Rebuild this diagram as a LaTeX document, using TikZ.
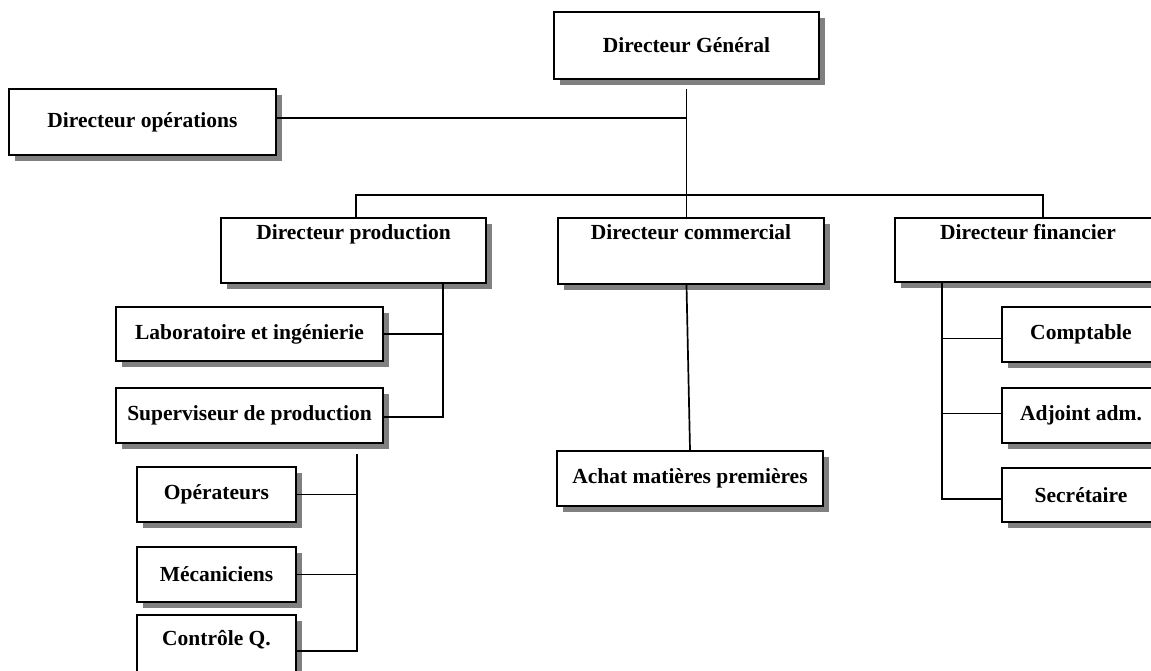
\documentclass[tikz,border=0pt]{standalone}
\usepackage{fontspec}
\setmainfont{Liberation Serif}
\usetikzlibrary{shadows}
\begin{document}
\begin{tikzpicture}[x=1pt,y=-1pt,
  box/.style={draw=black, line width=2.2pt, fill=white, inner sep=0pt,
    font=\bfseries\fontsize{21.5}{25}\selectfont,
    drop shadow={shadow xshift=6pt, shadow yshift=-6pt, fill=black!50, opacity=1}},
  lbl/.style={inner sep=0pt, font=\bfseries\fontsize{21.5}{25}\selectfont},
  conn/.style={draw=black, line width=1.7pt}]
\useasboundingbox (0,0) rectangle (1151,670);
\clip (0,0) rectangle (1151,670);

% top management
\node[box, minimum width=265pt, minimum height=67pt] (dg) at (686.5,45.5) {Directeur Général};
\node[box, minimum width=267pt, minimum height=66pt] (do) at (142.5,122) {Directeur opérations};

% directors
\node[box, minimum width=265pt, minimum height=65pt,
  label={[lbl,anchor=base,yshift=-23pt]north:Directeur production}] (dp) at (353.5,250.5) {};
\node[box, minimum width=266pt, minimum height=66pt,
  label={[lbl,anchor=base,yshift=-23pt]north:Directeur commercial}] (dc) at (691,251) {};
\node[box, minimum width=266pt, minimum height=64pt,
  label={[lbl,anchor=base,yshift=-23pt]north:Directeur financier}] (df) at (1028,250) {};

% production branch
\node[box, minimum width=267pt, minimum height=54pt] (lab) at (249.5,334) {Laboratoire et ingénierie};
\node[box, minimum width=267pt, minimum height=55pt] (sup) at (249.5,415.5) {Superviseur de production};
\node[box, minimum width=159pt, minimum height=55pt] (ope) at (216.5,494.5) {Opérateurs};
\node[box, minimum width=159pt, minimum height=55pt] (mec) at (216.5,574.5) {Mécaniciens};
\node[box, minimum width=159pt, minimum height=72pt,
  label={[lbl,anchor=base,yshift=-32pt]north:Contrôle Q.}] (cq) at (216.5,651) {};

% commercial branch
\node[box, minimum width=266pt, minimum height=55pt] (acm) at (690,478.5) {Achat matières premières};

% finance branch
\node[box, minimum width=158pt, minimum height=55pt] (cpt) at (1081,334.5) {Comptable};
\node[box, minimum width=158pt, minimum height=55pt] (adj) at (1081,415.5) {Adjoint adm.};
\node[box, minimum width=158pt, minimum height=54pt] (sec) at (1081,495) {Secrétaire};

% trunk coordinates
\coordinate (bl) at (356,195);
\coordinate (br) at (1043,195);
\coordinate (px) at (443,0);
\coordinate (fx) at (942,0);
\coordinate (sx) at (357,0);

% connectors
\draw[conn, shorten <=9pt] (dg.south) -- (dg.south |- dc.north);
\draw[conn] ([yshift=4pt]do.east) -- ([yshift=4pt]do.east -| dg.south);
\draw[conn] (bl |- dp.north) -- (bl) -- (br) -- (br |- df.north);
\draw[conn] (dg.south |- dc.south) -- (acm.north);

\draw[conn] (px |- dp.south) -- ([yshift=-1.5pt]px |- sup.east) -- ([yshift=-1.5pt]sup.east);
\draw[conn] (lab.east) -- (lab.east -| px);

\draw[conn, shorten <=10pt] (sx |- sup.south) -- (sx |- cq.east) -- (cq.east);
\draw[conn] (ope.east) -- (ope.east -| sx);
\draw[conn] (mec.east) -- (mec.east -| sx);

\draw[conn] (fx |- df.south) -- ([yshift=-4pt]fx |- sec.west) -- ([yshift=-4pt]sec.west);
\draw[conn] ([yshift=-4pt]cpt.west) -- ([yshift=-4pt]cpt.west -| fx);
\draw[conn] ([yshift=2pt]adj.west) -- ([yshift=2pt]adj.west -| fx);
\end{tikzpicture}
\end{document}
